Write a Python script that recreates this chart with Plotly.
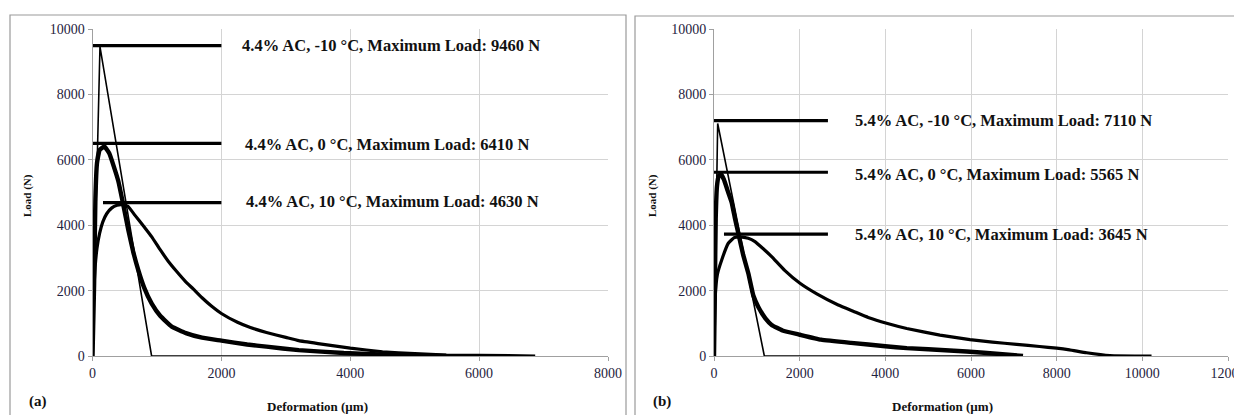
import plotly.graph_objects as go

# Page body has an 8px default margin; the figure is sized to fit the 1242x415 window.
OFF = 8
W, H = 1242 - OFF, 415 - OFF

# ---------------- Data ----------------
# Panel (a): 4.4% AC
a_m10_x = [0, 116, 917, 5750]
a_m10_y = [0, 9460, 0, 0]

a_0_x = [0, 25, 45, 70, 110, 183, 260, 330, 400, 480, 555, 630, 710, 800, 917,
         1050, 1230, 1450, 1700, 2000, 2400, 2700, 3200, 3900, 4600, 5490]
a_0_y = [0, 2200, 4800, 5900, 6300, 6410, 6200, 5800, 5350, 4600, 3860, 3200, 2630, 2100, 1610,
         1230, 900, 700, 560, 470, 350, 285, 180, 90, 40, 0]

a_10_x = [0, 15, 40, 70, 110, 160, 220, 300, 380, 450, 550, 660, 800, 917, 1050, 1175,
          1300, 1434, 1563, 1700, 1850, 2000, 2250, 2450, 2700, 3000, 3200, 3500, 4000,
          4500, 5000, 5490, 6870]
a_10_y = [0, 1800, 2700, 3300, 3750, 4100, 4350, 4530, 4610, 4630, 4580, 4300, 3950, 3650, 3250, 2900,
          2600, 2300, 2050, 1780, 1520, 1300, 1030, 870, 720, 570, 470, 380, 240,
          130, 70, 30, 0]

# Panel (b): 5.4% AC
b_m10_x = [0, 86, 1175, 7200]
b_m10_y = [0, 7110, 0, 0]

b_0_x = [0, 20, 40, 70, 110, 163, 230, 320, 412, 490, 568, 680, 801, 918, 1035, 1200, 1346,
         1600, 2007, 2500, 3200, 4000, 4500, 5500, 6300, 7214]
b_0_y = [0, 2000, 4200, 5200, 5500, 5565, 5400, 5050, 4700, 4200, 3750, 3100, 2530, 1850, 1500, 1150, 950,
         780, 650, 500, 400, 300, 240, 170, 100, 0]

b_10_x = [0, 23, 80, 180, 334, 470, 607, 800, 957, 1150, 1346, 1650, 2007, 2400, 2900, 3250,
          3600, 4030, 4500, 5275, 5975, 6500, 7065, 7600, 8000, 8300, 8700, 9243, 10215]
b_10_y = [0, 1714, 2500, 2938, 3448, 3620, 3645, 3600, 3500, 3280, 3039, 2620, 2224, 1900, 1560, 1370,
          1180, 1000, 840, 640, 500, 425, 357, 290, 240, 190, 100, 15, 0]

# Label leader lines and texts
a_lab_y = [9490, 6500, 4690]
a_lab_x0 = [0, 0, 163]
a_lab_x1 = [2000, 2000, 2000]
a_txt_x = [2286, 2328, 2353]
a_txt_y = [9490, 6480, 4720]
a_labels = ["4.4% AC, -10 °C, Maximum Load: 9460 N",
            "4.4% AC, 0 °C, Maximum Load: 6410 N",
            "4.4% AC, 10 °C, Maximum Load: 4630 N"]

b_lab_y = [7200, 5620, 3730]
b_lab_x0 = [0, 0, 233]
b_lab_x1 = [2660, 2660, 2660]
b_txt_x = [3251, 3251, 3251]
b_txt_y = [7200, 5540, 3730]
b_labels = ["5.4% AC, -10 °C, Maximum Load: 7110 N",
            "5.4% AC, 0 °C, Maximum Load: 5565 N",
            "5.4% AC, 10 °C, Maximum Load: 3645 N"]

a_xticks = [0, 2000, 4000, 6000, 8000]
b_xticks = [0, 2000, 4000, 6000, 8000, 10000, 12000]
yticks = [0, 2000, 4000, 6000, 8000, 10000]

# ---------------- Figure ----------------
SERIF = "Liberation Serif"
fig = go.Figure()

def add_panel(xa, ya, m10x, m10y, c0x, c0y, c10x, c10y, lx0, lx1, ly):
    fig.add_trace(go.Scatter(x=c10x, y=c10y, mode="lines", xaxis=xa, yaxis=ya,
                             line=dict(color="black", width=3.2, shape="spline", smoothing=0.35),
                             showlegend=False, hoverinfo="skip"))
    fig.add_trace(go.Scatter(x=c0x, y=c0y, mode="lines", xaxis=xa, yaxis=ya,
                             line=dict(color="black", width=4.4, shape="spline", smoothing=0.35),
                             showlegend=False, hoverinfo="skip"))
    fig.add_trace(go.Scatter(x=m10x, y=m10y, mode="lines", xaxis=xa, yaxis=ya,
                             line=dict(color="black", width=1.6),
                             showlegend=False, hoverinfo="skip"))
    for x0, x1, y in zip(lx0, lx1, ly):
        fig.add_trace(go.Scatter(x=[x0, x1], y=[y, y], mode="lines", xaxis=xa, yaxis=ya,
                                 line=dict(color="black", width=3.2),
                                 showlegend=False, hoverinfo="skip"))

add_panel("x", "y", a_m10_x, a_m10_y, a_0_x, a_0_y, a_10_x, a_10_y, a_lab_x0, a_lab_x1, a_lab_y)
add_panel("x2", "y2", b_m10_x, b_m10_y, b_0_x, b_0_y, b_10_x, b_10_y, b_lab_x0, b_lab_x1, b_lab_y)

annotations = []
for tx, ty, t in zip(a_txt_x, a_txt_y, a_labels):
    annotations.append(dict(x=tx, y=ty, xref="x", yref="y", text="<b>%s</b>" % t, showarrow=False,
                            xanchor="left", yanchor="middle",
                            font=dict(family=SERIF, size=16.5, color="#111111")))
for tx, ty, t in zip(b_txt_x, b_txt_y, b_labels):
    annotations.append(dict(x=tx, y=ty, xref="x2", yref="y2", text="<b>%s</b>" % t, showarrow=False,
                            xanchor="left", yanchor="middle",
                            font=dict(family=SERIF, size=16.5, color="#111111")))

def px_x(p):
    # screen pixel -> paper fraction
    return (p - OFF) / W

def px_y(p):
    return (H - (p - OFF)) / H

# axis titles and panel letters
for cx, txt in [(317, "Deformation (µm)"), (942, "Deformation (µm)")]:
    annotations.append(dict(x=px_x(cx), y=px_y(406), xref="paper", yref="paper", text="<b>%s</b>" % txt,
                            showarrow=False, xanchor="center", yanchor="middle",
                            font=dict(family=SERIF, size=13, color="#111111")))
for cx in [27, 652]:
    annotations.append(dict(x=px_x(cx), y=px_y(196), xref="paper", yref="paper", text="<b>Load (N)</b>",
                            showarrow=False, xanchor="center", yanchor="middle", textangle=-90,
                            font=dict(family=SERIF, size=11, color="#111111")))
for cx, txt in [(38, "(a)"), (662, "(b)")]:
    annotations.append(dict(x=px_x(cx), y=px_y(401), xref="paper", yref="paper", text="<b>%s</b>" % txt,
                            showarrow=False, xanchor="center", yanchor="middle",
                            font=dict(family=SERIF, size=15, color="#111111")))

shapes = [
    dict(type="rect", xref="paper", yref="paper", x0=px_x(10), x1=px_x(626), y0=-0.05, y1=px_y(15),
         line=dict(color="#9a9a9a", width=1.2)),
    dict(type="rect", xref="paper", yref="paper", x0=px_x(635), x1=px_x(1240.5), y0=-0.05, y1=px_y(16),
         line=dict(color="#9a9a9a", width=1.2)),
]

axis_common = dict(showgrid=True, gridcolor="#d4d4d4", gridwidth=1, zeroline=False,
                   showline=True, linecolor="#a0a0a0", linewidth=1,
                   ticks="outside", ticklen=4, tickcolor="#a0a0a0", tickformat="d",
                   automargin=False, ticklabeloverflow="allow",
                   tickfont=dict(family=SERIF, size=14, color="#1f2340"))

ydom = [px_y(356), px_y(29)]
fig.update_layout(
    width=W, height=H, margin=dict(l=0, r=0, t=0, b=0, pad=0),
    paper_bgcolor="white", plot_bgcolor="white",
    showlegend=False,
    xaxis=dict(domain=[px_x(92.5), px_x(608)], range=[0, 8000], tickvals=a_xticks,
               anchor="y", **axis_common),
    yaxis=dict(domain=ydom, range=[0, 10000], tickvals=yticks, anchor="x", **axis_common),
    xaxis2=dict(domain=[px_x(714), px_x(1228)], range=[0, 12000], tickvals=b_xticks,
                anchor="y2", **axis_common),
    yaxis2=dict(domain=ydom, range=[0, 10000], tickvals=yticks, anchor="x2", **axis_common),
    annotations=annotations,
    shapes=shapes,
)

fig.write_html("out.html")
